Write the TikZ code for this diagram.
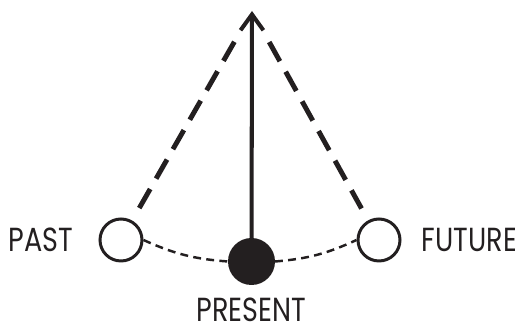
\documentclass[tikz,border=0pt]{standalone}
\usepackage{fontspec}
\setmainfont{Poppins}[FakeStretch=0.81]
\usepackage{tikz}
\usetikzlibrary{positioning, arrows.meta}
\definecolor{mInk}{HTML}{231F20}

\begin{document}
\begin{tikzpicture}[
  bob/.style={circle, draw=mInk, line width=1.7pt, minimum size=0.84cm,
              inner sep=0pt, fill=white},
  bobnow/.style={bob, fill=mInk, minimum size=0.88cm},
  tag/.style={font=\fontsize{19}{21}\selectfont, text=mInk, inner sep=0pt},
  swing/.style={draw=mInk, line width=2.8pt, dash pattern=on 12.5pt off 6.8pt,
                shorten <=0.71cm, shorten >=0.27cm},
  track/.style={draw=mInk, line width=1.4pt, dash pattern=on 4.5pt off 3pt},
]
  \useasboundingbox (0,0) rectangle (10.3,6.58);

  % pivot and the three bob positions
  \coordinate (pivot) at (5.04, 6.36);
  \node[bob] (past) at (2.42, 1.78) {};
  \node[bobnow] (present) at (5.03, 1.35) {};
  \node[bob] (future) at (7.58, 1.78) {};

  % swing lines and the arc of the pendulum
  \draw[swing] (pivot) -- (past);
  \draw[swing] (pivot) -- (future);
  \draw[track] (past.east) to[bend right=10] (present.west);
  \draw[track] (present.east) to[bend right=10] (future.west);
  \draw[draw=mInk, line width=2.3pt, -{Straight Barb[length=9pt, width=13pt]}] (present) -- (pivot);

  % labels
  \node[tag, left=0.5cm of past] (pastlab) {PAST};
  \node[tag, below=0.25cm of present] (presentlab) {PRESENT};
  \node[tag, right=0.4cm of future] (futurelab) {FUTURE};
\end{tikzpicture}
\end{document}
